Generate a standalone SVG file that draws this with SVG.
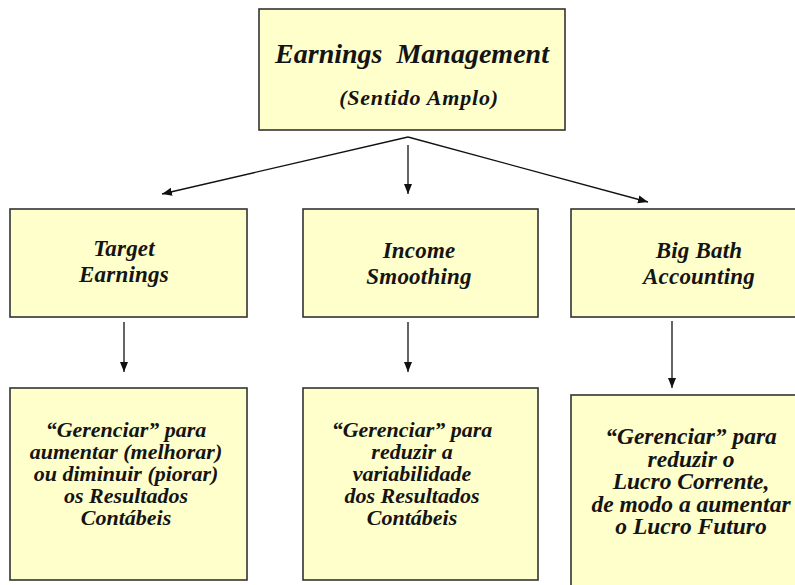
<svg xmlns="http://www.w3.org/2000/svg" width="795" height="585" viewBox="0 0 795 585">
<defs>
<marker id="ah" markerUnits="userSpaceOnUse" markerWidth="10" markerHeight="10" viewBox="0 0 10 10" refX="10" refY="5" orient="auto">
<path d="M0,1 L10,5 L0,9 Z" fill="#111"/>
</marker>
</defs>
<style>
.box{fill:#FFFFCC;stroke:#333;stroke-width:1.6}
.t{font-family:"Liberation Serif","Times New Roman",serif;font-style:italic;font-weight:bold;fill:#141414;text-anchor:middle}
.conn{stroke:#111;stroke-width:1.3;fill:none;marker-end:url(#ah)}
</style>
<rect width="795" height="585" fill="#fff"/>
<g id="root">
<rect class="box" x="259" y="9" width="306" height="121"/>
<text class="t" x="412" y="63" font-size="28" xml:space="preserve">Earnings  Management</text>
<text class="t" x="419" y="105" font-size="22" letter-spacing="0.8">(Sentido Amplo)</text>
</g>
<g id="target">
<rect class="box" x="10" y="209" width="237" height="108"/>
<text class="t" x="124" y="256" font-size="23" letter-spacing="0.2">Target</text>
<text class="t" x="124" y="282" font-size="23" letter-spacing="0.2">Earnings</text>
</g>
<g id="smoothing">
<rect class="box" x="303" y="209" width="235" height="108"/>
<text class="t" x="419" y="258" font-size="23" letter-spacing="0.2">Income</text>
<text class="t" x="419" y="284" font-size="23" letter-spacing="0.2">Smoothing</text>
</g>
<g id="bigbath">
<rect class="box" x="571" y="209" width="240" height="108"/>
<text class="t" x="699" y="258" font-size="23" letter-spacing="0.2">Big Bath</text>
<text class="t" x="699" y="284" font-size="23" letter-spacing="0.2">Accounting</text>
</g>
<g id="target-desc">
<rect class="box" x="10" y="388" width="237" height="192"/>
<text class="t" font-size="22"><tspan x="126" y="437">“Gerenciar” para</tspan><tspan x="126" y="459">aumentar (melhorar)</tspan><tspan x="126" y="481">ou diminuir (piorar)</tspan><tspan x="126" y="503">os Resultados</tspan><tspan x="126" y="525">Contábeis</tspan></text>
</g>
<g id="smoothing-desc">
<rect class="box" x="303" y="388" width="235" height="192"/>
<text class="t" font-size="22"><tspan x="412" y="437">“Gerenciar” para</tspan><tspan x="412" y="459">reduzir a</tspan><tspan x="412" y="481">variabilidade</tspan><tspan x="412" y="503">dos Resultados</tspan><tspan x="412" y="525">Contábeis</tspan></text>
</g>
<g id="bigbath-desc">
<rect class="box" x="571" y="395" width="240" height="200"/>
<text class="t" font-size="23.5"><tspan x="691" y="444">“Gerenciar” para</tspan><tspan x="691" y="466.5">reduzir o</tspan><tspan x="691" y="489">Lucro Corrente,</tspan><tspan x="691" y="511.5">de modo a aumentar</tspan><tspan x="691" y="534">o Lucro Futuro</tspan></text>
</g>
<g id="connectors">
<line class="conn" x1="408" y1="137" x2="162" y2="194"/>
<line class="conn" x1="408" y1="145" x2="408" y2="194"/>
<line class="conn" x1="408" y1="137" x2="648" y2="202"/>
<line class="conn" x1="124" y1="322" x2="124" y2="372"/>
<line class="conn" x1="408" y1="322" x2="408" y2="372"/>
<line class="conn" x1="672" y1="321" x2="672" y2="388"/>
</g>
</svg>
